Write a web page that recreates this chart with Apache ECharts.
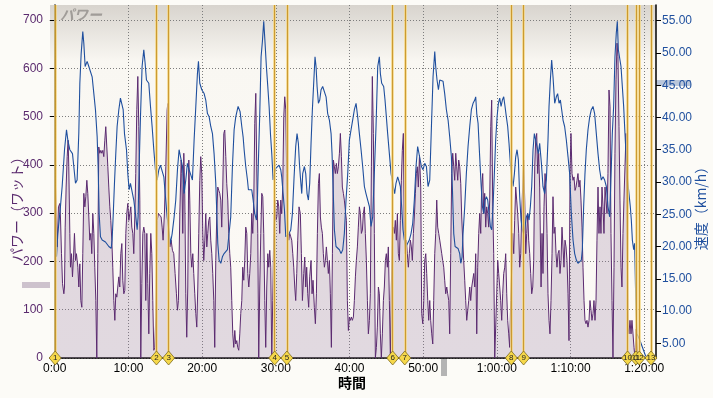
<!DOCTYPE html>
<html>
<head>
<meta charset="utf-8">
<title>パワー</title>
<script src="https://cdn.jsdelivr.net/npm/echarts@6/dist/echarts.min.js"></script>
<style>
    html, body { margin: 0; padding: 0; background: #fcfbf7; }
    #chart { width: 713px; height: 398px; }
</style>
</head>
<body>
<div id="chart"></div>
<script>
// 時間 (分) と 速度 (km/h)
var speedT = [0.23,0.41,0.77,1.0,1.32,1.59,1.77,2.04,2.22,2.4,2.58,2.81,3.03,3.26,3.4,3.58,3.8,3.94,4.12,4.39,4.62,4.84,5.07,5.3,5.52,5.75,5.88,6.02,6.2,6.43,6.88,7.33,7.65,7.78,7.92,8.1,8.28,8.46,8.69,8.91,9.14,9.28,9.46,9.73,9.91,10.09,10.27,10.5,10.72,10.95,11.18,11.31,11.45,11.63,11.85,12.08,12.26,12.44,12.76,12.99,13.21,13.44,13.66,13.89,14.12,14.34,14.57,14.8,15.02,15.25,15.47,15.7,15.93,16.2,16.42,16.65,16.87,17.1,17.33,17.55,17.78,18.0,18.23,18.46,18.68,18.91,19.14,19.36,19.5,19.68,19.95,20.13,20.27,20.49,20.72,20.95,21.17,21.4,21.62,21.85,21.99,22.12,22.3,22.53,22.75,22.98,23.43,23.66,23.88,24.11,24.34,24.56,24.88,25.15,25.38,25.56,25.7,25.92,26.15,26.28,26.46,26.73,26.92,27.14,27.37,27.5,27.64,27.82,28.0,28.18,28.36,28.54,28.72,28.91,29.09,29.27,29.45,29.63,29.81,29.99,30.44,30.67,30.8,30.99,31.17,31.35,31.57,31.8,32.03,32.25,32.48,32.7,32.88,33.06,33.2,33.33,33.52,33.65,33.88,34.06,34.24,34.42,34.6,34.78,34.96,35.14,35.32,35.46,35.6,35.78,35.96,36.14,36.36,36.59,36.82,37.04,37.27,37.5,37.63,37.77,37.95,38.17,38.63,38.85,39.08,39.3,39.53,39.76,39.98,40.21,40.43,40.66,40.89,41.11,41.34,41.57,41.79,42.02,42.24,42.47,42.7,42.92,43.15,43.37,43.6,43.83,44.05,44.19,44.37,44.64,44.82,45.0,45.18,45.41,45.64,45.95,46.13,46.31,46.54,46.72,46.9,47.08,47.26,47.45,47.67,47.9,48.12,48.35,48.58,48.8,49.03,49.25,49.48,49.76,49.98,50.21,50.44,50.66,50.89,51.12,51.34,51.57,51.7,51.88,52.07,52.25,52.47,52.7,52.92,53.15,53.38,53.6,53.83,53.96,54.15,54.33,54.73,54.96,55.1,55.28,55.41,55.64,55.86,56.09,56.32,56.54,56.77,57.0,57.13,57.27,57.45,57.67,57.85,58.04,58.22,58.4,58.58,58.76,58.94,59.12,59.3,59.48,59.66,59.84,60.03,60.21,60.39,60.57,60.75,60.93,61.11,61.29,61.47,61.65,61.83,62.02,62.2,62.38,62.56,62.74,62.92,63.1,63.28,63.46,63.64,63.82,64.01,64.19,64.37,64.55,64.73,64.91,65.09,65.27,65.45,65.63,65.81,66.04,66.26,66.49,66.72,66.94,67.08,67.26,67.44,67.62,67.85,68.07,68.25,68.44,68.62,68.8,68.98,69.2,69.43,69.66,69.88,70.11,70.34,70.56,70.79,71.01,71.24,71.47,71.6,71.78,71.96,72.14,72.37,72.6,72.82,73.05,73.27,73.5,73.73,73.95,74.18,74.41,74.63,74.86,75.08,75.31,75.54,75.67,75.85,76.03,76.21,76.35,76.49,76.67,76.85,77.03,77.21,77.39,77.57,77.75,77.93,78.11,78.25,78.39,78.57,78.7,78.85,79.0,79.4,80.2];
var speedV = [18.4,22.0,26.2,29.3,35.0,38.1,36.5,35.0,35.2,34.4,32.4,29.8,30.3,37.6,45.3,49.9,53.3,51.5,47.9,48.7,47.9,48.1,46.3,43.7,41.2,37.0,32.4,25.1,21.5,21.0,20.7,20.0,19.7,21.0,24.6,29.8,34.4,38.6,41.2,43.0,43.0,41.2,37.5,35.0,31.3,28.8,29.8,29.5,27.2,25.1,22.6,24.6,32.4,40.1,47.9,50.5,48.4,45.8,45.3,41.7,38.6,35.0,31.9,30.3,31.9,32.6,32.9,30.8,27.7,24.6,22.6,20.5,22.0,24.6,27.2,31.9,35.0,35.2,32.4,28.2,30.3,32.9,31.9,31.1,30.3,36.5,41.7,46.8,48.7,45.3,44.3,44.5,43.7,42.7,40.6,40.1,38.6,37.5,34.4,29.8,25.1,20.5,17.9,17.4,18.4,18.9,19.5,19.7,24.6,32.4,38.1,40.1,41.7,40.9,38.6,37.0,35.0,32.4,30.3,28.8,29.0,28.8,27.2,25.1,24.1,27.2,33.4,40.6,49.4,51.8,54.9,51.5,47.9,44.8,41.7,37.5,34.4,30.3,31.3,32.1,32.6,31.9,30.8,28.2,25.7,21.5,21.3,22.0,22.6,25.1,30.8,35.5,37.5,36.0,32.9,30.8,28.2,31.3,32.4,31.3,28.2,27.2,29.8,36.0,41.2,45.3,49.4,47.9,44.8,42.2,42.7,44.3,44.8,45.0,43.2,40.6,39.6,37.5,34.4,29.3,22.6,20.0,19.5,18.9,19.5,22.0,27.2,31.3,36.5,38.1,39.6,41.2,42.2,40.1,37.5,35.0,32.4,29.3,28.2,27.2,26.2,23.1,24.6,31.3,38.6,47.9,49.4,46.8,45.3,44.8,42.7,40.1,37.5,34.4,31.3,29.3,28.2,29.8,30.8,30.1,29.3,26.2,22.6,21.0,20.0,20.0,21.0,22.0,23.6,27.2,32.4,35.5,35.7,32.4,31.9,32.9,32.4,29.3,30.3,38.6,46.3,50.2,47.9,45.8,44.3,45.8,46.1,45.6,43.7,41.2,39.6,37.0,33.9,29.3,22.0,20.0,19.7,18.9,17.4,18.4,22.0,26.2,31.3,35.5,38.6,41.2,42.2,42.7,43.2,40.6,39.1,33.9,29.8,26.2,25.1,27.2,27.7,27.2,25.1,23.1,22.6,26.2,31.3,36.5,40.1,42.2,43.0,41.7,42.7,43.2,41.7,40.1,38.6,36.0,32.9,30.8,29.3,31.3,33.9,35.0,33.4,27.7,24.1,22.6,22.0,23.1,24.6,25.1,24.1,26.2,29.3,35.0,37.5,36.5,35.5,34.4,36.0,33.0,29.3,28.2,30.3,36.5,41.7,45.8,48.9,46.3,42.2,43.2,43.7,42.2,42.7,41.2,39.6,38.6,36.5,33.9,31.3,25.1,21.0,18.9,17.9,17.4,17.4,17.9,19.5,26.2,31.3,35.0,38.1,40.1,41.2,41.7,40.6,37.5,34.4,31.9,30.3,30.8,30.3,29.3,26.2,24.6,32.4,37.5,41.7,49.4,53.1,54.9,50.5,50.5,47.9,44.8,41.7,37.5,33.4,30.3,28.2,26.2,24.1,21.0,19.5,20.5,12.0,6.5,5.5,3.0];

// 時間 (分) と パワー (ワット)
var powerT = [0.0,0.1,0.32,0.5,0.68,0.77,0.91,1.05,1.23,1.32,1.41,1.54,1.68,1.81,1.9,2.04,2.13,2.27,2.4,2.54,2.67,2.81,2.94,3.13,3.26,3.4,3.53,3.67,3.8,3.94,4.08,4.21,4.35,4.48,4.62,4.75,4.89,5.02,5.16,5.3,5.43,5.57,5.7,5.84,5.97,6.11,6.25,6.38,6.52,6.65,6.79,6.92,7.06,7.2,7.33,7.47,7.6,7.74,7.87,8.01,8.15,8.28,8.42,8.55,8.69,8.82,8.96,9.1,9.23,9.37,9.5,9.64,9.77,9.91,10.05,10.18,10.32,10.45,10.59,10.72,10.86,10.99,11.13,11.27,11.4,11.54,11.67,11.81,11.95,12.08,12.22,12.35,12.49,12.62,12.76,12.89,13.03,13.17,13.3,13.44,13.57,13.71,13.89,14.07,14.25,14.43,14.57,14.7,14.88,15.07,15.25,15.34,15.47,15.61,15.79,15.97,16.15,16.33,16.51,16.65,16.78,16.97,17.15,17.24,17.37,17.51,17.64,17.78,17.91,18.05,18.19,18.32,18.46,18.59,18.73,18.86,19.0,19.14,19.27,19.41,19.54,19.68,19.81,19.95,20.09,20.22,20.36,20.49,20.63,20.76,20.9,21.04,21.17,21.31,21.44,21.58,21.71,21.85,21.99,22.12,22.26,22.39,22.53,22.66,22.8,22.94,23.07,23.21,23.34,23.48,23.61,23.75,23.88,24.02,24.16,24.29,24.43,24.56,24.7,24.83,24.97,25.11,25.24,25.38,25.51,25.65,25.78,25.92,26.06,26.19,26.33,26.46,26.6,26.73,26.87,27.01,27.14,27.28,27.41,27.55,27.68,27.82,27.96,28.09,28.23,28.36,28.5,28.63,28.77,28.91,29.04,29.18,29.31,29.45,29.58,29.72,29.86,29.99,30.13,30.26,30.4,30.53,30.67,30.8,30.94,31.08,31.21,31.35,31.48,31.62,31.75,31.89,32.03,32.16,32.3,32.43,32.57,32.7,32.84,32.97,33.15,33.33,33.47,33.61,33.79,33.92,34.06,34.19,34.33,34.46,34.6,34.78,34.92,35.05,35.23,35.37,35.51,35.64,35.78,35.91,36.05,36.18,36.32,36.45,36.59,36.73,36.86,37.0,37.13,37.27,37.4,37.54,37.68,37.81,37.95,38.08,38.22,38.35,38.49,38.63,38.76,38.9,39.03,39.17,39.3,39.44,39.58,39.71,39.85,39.98,40.12,40.25,40.39,40.53,40.66,40.8,40.93,41.07,41.2,41.34,41.48,41.61,41.75,41.88,42.02,42.15,42.29,42.43,42.56,42.7,42.83,42.97,43.1,43.24,43.37,43.51,43.65,43.78,43.92,44.05,44.19,44.32,44.46,44.6,44.73,44.87,45.0,45.14,45.27,45.41,45.55,45.68,45.82,45.95,46.09,46.22,46.36,46.5,46.63,46.77,46.9,47.04,47.17,47.31,47.45,47.58,47.72,47.85,47.99,48.12,48.26,48.4,48.53,48.67,48.8,48.94,49.07,49.21,49.34,49.5,49.67,49.8,49.94,50.08,50.21,50.35,50.48,50.62,50.75,50.89,51.02,51.16,51.3,51.43,51.57,51.7,51.84,51.97,52.11,52.25,52.38,52.52,52.65,52.79,52.92,53.06,53.2,53.33,53.47,53.6,53.74,53.87,54.01,54.15,54.28,54.42,54.55,54.69,54.82,54.96,55.1,55.23,55.37,55.5,55.64,55.77,55.91,56.05,56.18,56.32,56.45,56.59,56.72,56.86,57.0,57.13,57.27,57.4,57.54,57.67,57.81,57.94,58.08,58.22,58.35,58.49,58.62,58.76,58.89,59.03,59.17,59.3,59.44,59.57,59.71,59.84,59.98,60.12,60.25,60.39,60.52,60.66,60.79,60.93,61.07,61.2,61.34,61.47,61.61,61.74,61.88,62.02,62.15,62.29,62.42,62.56,62.69,62.83,62.97,63.1,63.24,63.37,63.51,63.64,63.78,63.92,64.05,64.19,64.32,64.46,64.59,64.73,64.87,65.0,65.14,65.27,65.41,65.54,65.68,65.81,66.0,66.13,66.26,66.4,66.54,66.67,66.81,66.94,67.08,67.21,67.35,67.49,67.62,67.76,67.89,68.03,68.16,68.3,68.44,68.57,68.71,68.84,68.98,69.11,69.25,69.39,69.52,69.66,69.79,69.93,70.06,70.2,70.34,70.47,70.61,70.74,70.88,71.01,71.15,71.28,71.42,71.56,71.69,71.83,71.96,72.1,72.23,72.37,72.51,72.64,72.78,72.91,73.05,73.18,73.32,73.46,73.59,73.73,73.86,74.0,74.13,74.27,74.41,74.54,74.68,74.81,74.95,75.08,75.22,75.36,75.49,75.63,75.76,75.9,76.03,76.17,76.31,76.44,76.58,76.71,76.85,76.98,77.12,77.25,77.39,77.53,77.66,77.8,77.93,78.07,78.21,78.34,78.48,78.61,78.75,78.9,79.1,79.3];
var powerV = [180,354,230,313,320,292,216,154,133,147,271,354,417,451,396,258,188,216,168,209,258,202,216,188,147,195,119,105,216,341,313,334,368,341,292,244,258,216,299,258,188,119,0,216,437,424,430,424,430,417,451,479,437,396,354,313,285,244,188,119,78,133,126,147,168,147,216,237,161,133,140,258,299,320,285,299,313,271,258,216,292,382,514,583,479,327,0,154,258,271,258,119,258,154,50,175,258,216,119,16,22,85,285,299,299,292,271,244,299,396,514,527,258,230,244,223,216,175,133,99,119,299,410,382,258,424,341,133,43,147,410,327,216,188,216,175,133,92,64,147,258,368,417,382,258,202,244,299,230,258,285,292,244,216,175,119,22,202,299,354,347,341,327,271,354,465,472,417,361,327,258,216,188,119,50,22,57,29,36,22,16,50,92,119,188,161,202,271,258,175,147,175,216,299,258,327,486,548,396,258,0,147,258,341,334,258,119,22,147,216,188,223,188,0,119,258,327,285,292,327,313,258,327,299,354,500,541,514,382,258,244,258,251,244,216,188,147,119,175,244,313,299,216,119,175,209,147,188,133,105,168,202,133,161,105,71,133,258,361,382,292,271,258,216,188,202,230,202,175,202,133,22,216,410,410,382,403,382,396,424,465,417,354,341,327,306,285,119,57,85,78,85,78,85,119,168,202,230,271,313,299,258,265,299,313,258,202,119,50,78,133,396,583,465,258,0,22,64,147,133,50,0,50,119,147,202,216,188,230,119,0,147,258,271,258,285,244,299,216,202,285,368,430,465,258,216,244,216,188,216,244,230,202,258,292,341,382,396,354,420,354,92,71,119,202,216,175,119,78,119,78,50,29,119,216,258,327,271,258,244,244,216,202,188,161,133,147,133,119,50,216,382,424,396,368,424,396,368,410,396,361,292,244,202,161,119,78,78,119,147,119,147,147,175,147,216,50,188,258,299,258,354,382,299,341,271,313,299,271,327,479,534,313,216,0,0,133,202,175,147,119,78,133,175,188,216,133,78,50,22,119,188,258,216,285,354,327,299,258,188,216,299,354,410,327,216,258,299,244,216,175,133,147,202,396,451,465,382,424,354,147,258,175,313,382,354,258,133,78,50,119,216,334,258,271,216,188,216,223,175,202,271,230,188,244,230,202,133,36,382,465,382,368,375,347,354,368,382,354,368,327,271,188,119,78,71,78,64,78,119,99,78,92,119,78,119,244,354,258,313,258,354,313,258,354,327,299,382,555,520,258,119,0,188,424,576,652,624,479,327,188,147,258,327,396,465,299,64,50,78,50,78,50,22,0,60,10,0];

// ラップ
var lapTimes = [0.05,13.8,15.45,29.85,31.5,45.86,47.5,61.96,63.63,77.74,78.88,79.33,80.92];
var lapNames = ['1','2','3','4','5','6','7','8','9','10','11','12','13'];

// 目盛
var timeTicks = [0,10,20,30,40,50,60,70,80];
var powerTicks = [0,100,200,300,400,500,600,700];
var speedTicks = [5,10,15,20,25,30,35,40,45,50,55];

function fmtTime(m) {
    var h = Math.floor(m / 60), mm = Math.round(m % 60);
    if (h > 0) return h + ':' + (mm < 10 ? '0' + mm : mm) + ':00';
    return mm + ':00';
}

var narrow = '"Liberation Sans Narrow", "Liberation Sans", sans-serif';
var jp = '"Noto Sans CJK JP", sans-serif';
var dotted = { show: true, lineStyle: { color: '#7d7d7d', type: [1, 2], width: 1 } };
var lapLines = lapTimes.map(function (t) { return { xAxis: t }; });

var chart = echarts.init(document.getElementById('chart'));

var option = {
    animation: false,
    backgroundColor: '#fcfbf7',
    grid: {
        left: 50, right: 57, top: 5, bottom: 40,
        show: true, borderWidth: 0,
        backgroundColor: {
            type: 'linear', x: 0, y: 0, x2: 0, y2: 1,
            colorStops: [
                { offset: 0, color: '#d8d4ce' },
                { offset: 0.16, color: '#f9f7f2' },
                { offset: 1, color: '#fcfaf6' }
            ]
        }
    },
    title: {
        text: 'パワー', left: 55, top: 3,
        textStyle: { color: '#a09c98', fontSize: 14, fontStyle: 'italic', fontWeight: 'bold', fontFamily: jp }
    },
    xAxis: {
        type: 'value', min: -0.65, max: 81.6,
        axisLine: { lineStyle: { color: '#000', width: 1.5 } },
        axisTick: { show: false, customValues: timeTicks },
        axisLabel: {
            customValues: timeTicks, formatter: fmtTime,
            color: '#000', fontSize: 12, fontFamily: narrow, margin: 5
        },
        splitLine: dotted
    },
    yAxis: [{
        type: 'value', min: 0, max: 731, position: 'left',
        axisLine: { show: true, lineStyle: { color: '#000', width: 1.5 } },
        axisTick: { show: true, length: 5, customValues: powerTicks, lineStyle: { color: '#000' } },
        axisLabel: { customValues: powerTicks, color: '#5a2a6e', fontSize: 12, fontFamily: narrow, margin: 7 },
        splitLine: dotted
    }, {
        type: 'value', min: 2.72, max: 57.43, position: 'right',
        axisLine: { show: true, lineStyle: { color: '#000', width: 1.5 } },
        axisTick: { show: true, length: 5, customValues: speedTicks, lineStyle: { color: '#000' } },
        axisLabel: {
            customValues: speedTicks, color: '#1f4f9e', fontSize: 12, fontFamily: narrow, margin: 6,
            formatter: function (v) { return v.toFixed(2); }
        },
        splitLine: { show: false }
    }],
    graphic: [
        { type: 'rect', shape: { x: 22, y: 282, width: 28, height: 6 }, style: { fill: '#cdc2cd' } },
        { type: 'rect', shape: { x: 656, y: 80, width: 35, height: 6 }, style: { fill: '#b9c6da' } },
        { type: 'rect', shape: { x: 441, y: 358, width: 6, height: 18 }, style: { fill: '#b4b4b4' } },
        { type: 'text', x: 17, y: 206, rotation: Math.PI / 2,
          style: { text: 'パワー（ワット）', fill: '#5a2a6e', font: '14px ' + jp, align: 'center', verticalAlign: 'middle' } },
        { type: 'text', x: 701, y: 205, rotation: Math.PI / 2,
          style: { text: '速度（km/h）', fill: '#1f4f9e', font: '14px ' + jp, align: 'center', verticalAlign: 'middle' } },
        { type: 'text', x: 352, y: 383,
          style: { text: '時間', fill: '#000', font: 'bold 14px ' + jp, align: 'center', verticalAlign: 'middle' } }
    ],
    series: [{
        name: 'パワー', type: 'line', yAxisIndex: 0,
        data: powerT.map(function (t, i) { return [t, powerV[i]]; }),
        showSymbol: false, symbol: 'none',
        lineStyle: { color: '#5b2b70', width: 1 },
        areaStyle: { color: 'rgba(142,115,155,0.35)' },
        z: 2
    }, {
        name: '速度', type: 'line', yAxisIndex: 1,
        data: speedT.map(function (t, i) { return [t, speedV[i]]; }),
        showSymbol: false, symbol: 'none',
        lineStyle: { color: '#1f4f9e', width: 1.1 },
        z: 3,
        markLine: {
            silent: true, symbol: 'none', label: { show: false },
            lineStyle: { color: 'rgba(243,214,130,0.75)', width: 3, type: 'solid' },
            data: lapLines
        }
    }, {
        name: 'ラップ', type: 'scatter', yAxisIndex: 0,
        data: lapTimes.map(function (t) { return [t, 0]; }),
        symbol: 'diamond', symbolSize: [12, 14], clip: false,
        itemStyle: { color: '#f6d84a', borderColor: '#7d6a20', borderWidth: 0.8, opacity: 1 },
        label: {
            show: true, position: 'inside', fontSize: 8, color: '#222', fontFamily: narrow,
            formatter: function (p) { return lapNames[p.dataIndex]; }
        },
        z: 6,
        markLine: {
            silent: true, symbol: 'none', label: { show: false },
            lineStyle: { color: 'rgba(196,142,30,0.85)', width: 1, type: 'solid' },
            data: lapLines
        }
    }]
};

chart.setOption(option);
</script>
</body>
</html>
